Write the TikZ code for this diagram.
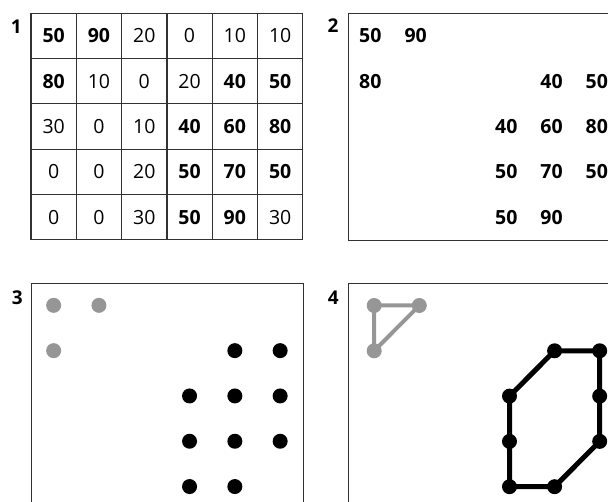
\documentclass[tikz,border=0pt]{standalone}
\usepackage{fontspec}
\setmainfont{Open Sans}
\definecolor{dotgray}{RGB}{150,150,150}
\definecolor{framegray}{RGB}{50,50,50}
\begin{document}
\begin{tikzpicture}[x=1pt,y=-1pt,
  cell/.style={draw=framegray, line width=1.2pt, minimum width=45.3pt, minimum height=45.3pt, inner sep=0pt},
  numn/.style={font=\fontsize{19.5}{22}\selectfont, inner sep=0pt},
  numb/.style={font=\fontsize{19.5}{22}\selectfont\bfseries, inner sep=0pt},
  panel/.style={draw=framegray, line width=1.2pt},
  plabel/.style={font=\fontsize{19}{20}\selectfont\bfseries, anchor=base east, inner sep=0pt},
  dotb/.style={circle, fill=black, inner sep=0pt, minimum size=15pt},
  dotg/.style={circle, fill=dotgray, inner sep=0pt, minimum size=15pt},
  edgeb/.style={draw=black, line width=5pt, line join=round},
  edgeg/.style={draw=dotgray, line width=4pt, line join=round}]
\useasboundingbox (0,0) rectangle (608,502);
\clip (0,0) rectangle (608,502);
% panel labels
\node[plabel] (l1) at (22,34) {1};
\node[plabel] (l2) at (338.7,33) {2};
\node[plabel] (l3) at (23,304.5) {3};
\node[plabel] (l4) at (339,305) {4};
% panel 1: table
\foreach \r/\c/\v/\w in {0/0/50/b,0/1/90/b,0/2/20/n,0/3/0/n,0/4/10/n,0/5/10/n,
  1/0/80/b,1/1/10/n,1/2/0/n,1/3/20/n,1/4/40/b,1/5/50/b,
  2/0/30/n,2/1/0/n,2/2/10/n,2/3/40/b,2/4/60/b,2/5/80/b,
  3/0/0/n,3/1/0/n,3/2/20/n,3/3/50/b,3/4/70/b,3/5/50/b,
  4/0/0/n,4/1/0/n,4/2/30/n,4/3/50/b,4/4/90/b,4/5/30/n}{
  \node[cell] (t-\r-\c) at ({53.65+45.3*\c},{35.95+45.3*\r}) {};
  \node[num\w] (tv-\r-\c) at (t-\r-\c.center) {\v};
}
% panel 2: bold values only
\node[panel, minimum width=272pt, minimum height=226.5pt, anchor=north west, inner sep=0pt] (p2) at (347.7,13.3) {};
\foreach \r/\c/\v in {0/0/50,0/1/90,1/0/80,1/4/40,1/5/50,2/3/40,2/4/60,2/5/80,
  3/3/50,3/4/70,3/5/50,4/3/50,4/4/90}{
  \node[numb] (s-\r-\c) at ({370.35+45.3*\c},{35.95+45.3*\r}) {\v};
}
% panel 3: dots
\node[panel, minimum width=272pt, minimum height=226.5pt, anchor=north west, inner sep=0pt] (p3) at (31,282.7) {};
\foreach \r/\c in {0/0,0/1,1/0}{
  \node[dotg] (d-\r-\c) at ({53.65+45.3*\c},{305.35+45.3*\r}) {};
}
\foreach \r/\c in {1/4,1/5,2/3,2/4,2/5,3/3,3/4,3/5,4/3,4/4}{
  \node[dotb] (d-\r-\c) at ({53.65+45.3*\c},{305.35+45.3*\r}) {};
}
% panel 4: outlines
\node[panel, minimum width=272pt, minimum height=226.5pt, anchor=north west, inner sep=0pt] (p4) at (347.7,282.7) {};
\foreach \r/\c in {0/0,0/1,1/0}{
  \node[dotg] (e-\r-\c) at ({374.2+45.1*\c},{305.5+45.3*\r}) {};
}
\foreach \r/\c in {1/4,1/5,2/3,2/5,3/3,3/5,4/3,4/4}{
  \node[dotb] (e-\r-\c) at ({374.2+45.1*\c},{305.5+45.3*\r}) {};
}
\draw[edgeg] (e-0-0.center) -- (e-0-1.center) -- (e-1-0.center) -- cycle;
\draw[edgeb] (e-1-4.center) -- (e-1-5.center) -- (e-2-5.center) -- (e-3-5.center)
  -- (e-4-4.center) -- (e-4-3.center) -- (e-3-3.center) -- (e-2-3.center) -- cycle;
\end{tikzpicture}
\end{document}
